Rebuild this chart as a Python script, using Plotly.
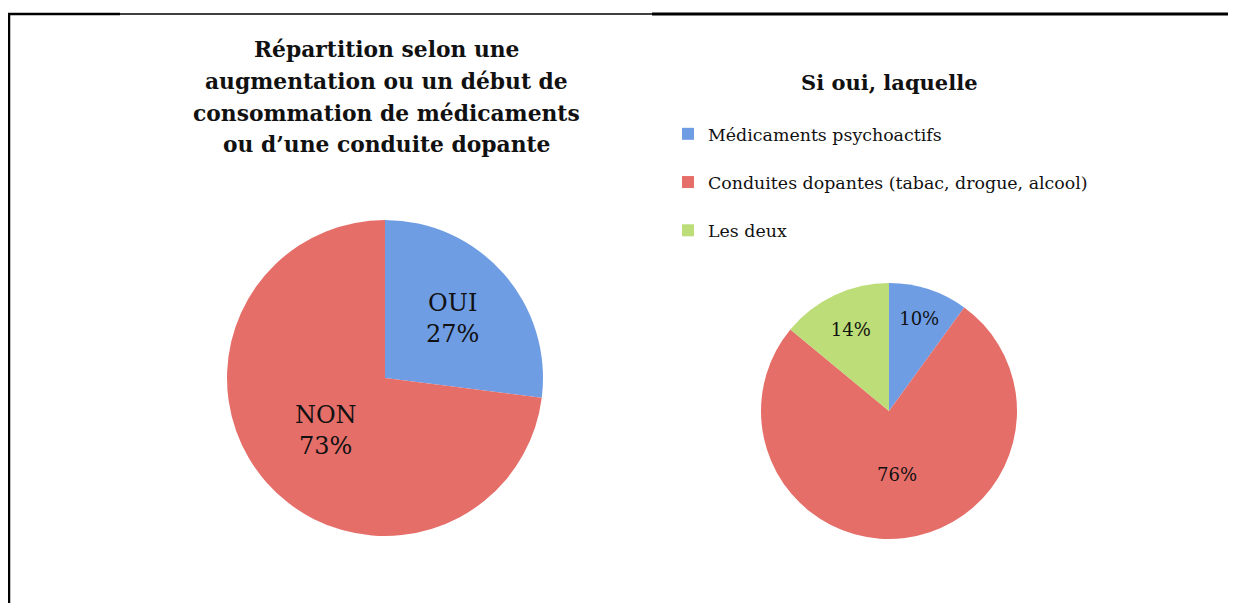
import plotly.graph_objects as go

# left pie: augmentation / début de consommation
rep_labels = ["OUI", "NON"]
rep_values = [27, 73]
rep_colors = ["#6E9DE4", "#E56E69"]

# right pie: si oui, laquelle
type_labels = ["Médicaments psychoactifs", "Conduites dopantes (tabac, drogue, alcool)", "Les deux"]
type_values = [10, 76, 14]
type_colors = ["#6E9DE4", "#E56E69", "#BCDD77"]

title_left = ["Répartition selon une", "augmentation ou un début de",
              "consommation de médicaments", "ou d’une conduite dopante"]
title_right = "Si oui, laquelle"

FONT = "DejaVu Serif"
# the page body has an 8px margin, so the figure is shifted by OFF
OFF = 8
W, H = 1236 - OFF, 603 - OFF


def px(x):
    return (x - OFF) / W


def py(y):
    return 1 - (y - OFF) / H


fig = go.Figure()

fig.add_trace(go.Pie(
    labels=rep_labels, values=rep_values, sort=False, direction="clockwise",
    marker=dict(colors=rep_colors), textposition="inside",
    texttemplate="%{label}<br>%{percent:.0%}",
    insidetextfont=dict(family=FONT, size=24, color="#111111"),
    domain=dict(x=[px(227), px(543)], y=[py(536), py(220)]),
    showlegend=False, hoverinfo="label+percent",
))

# trailing blank line gives the legend entries the taller spacing of the original
legend_text = [t + "<br> " for t in type_labels]
fig.add_trace(go.Pie(
    labels=legend_text, values=type_values, sort=False, direction="clockwise",
    marker=dict(colors=type_colors), textposition="inside",
    texttemplate="%{percent:.0%}",
    customdata=type_labels, hovertemplate="%{customdata}<br>%{percent}<extra></extra>",
    insidetextfont=dict(family=FONT, size=18, color="#111111"),
    domain=dict(x=[px(761), px(1017)], y=[py(539), py(283)]),
    showlegend=True,
))

for line, yc in zip(title_left, [50, 81, 113, 145]):
    fig.add_annotation(text=line, x=px(386), y=py(yc), xref="paper", yref="paper",
                       xanchor="center", yanchor="middle", showarrow=False,
                       font=dict(family=FONT, size=21.8, color="#111111", weight="bold"))
fig.add_annotation(text=title_right, x=px(889), y=py(82), xref="paper", yref="paper",
                   xanchor="center", yanchor="middle", showarrow=False,
                   font=dict(family=FONT, size=21, color="#111111", weight="bold"))

# frame lines around the figure
line_specs = [
    (8, 120, 2.5),
    (120, 652, 1.5),
    (652, 1236, 3),
]
for x0, x1, w in line_specs:
    fig.add_shape(type="line", xref="paper", yref="paper", x0=px(x0), x1=px(x1),
                  y0=py(14), y1=py(14), line=dict(color="black", width=w))
fig.add_shape(type="line", xref="paper", yref="paper", x0=px(9), x1=px(9),
              y0=py(610), y1=py(13), line=dict(color="black", width=2.5))

fig.update_layout(
    width=W, height=H, margin=dict(l=0, r=0, t=0, b=0),
    paper_bgcolor="white", plot_bgcolor="white",
    font=dict(family=FONT, color="#111111"),
    legend=dict(x=px(668), y=py(116), xanchor="left", yanchor="top",
                font=dict(family=FONT, size=17.4, color="#111111"), valign="top",
                itemwidth=30, bgcolor="rgba(0,0,0,0)"),
)

fig.write_html("out.html")
